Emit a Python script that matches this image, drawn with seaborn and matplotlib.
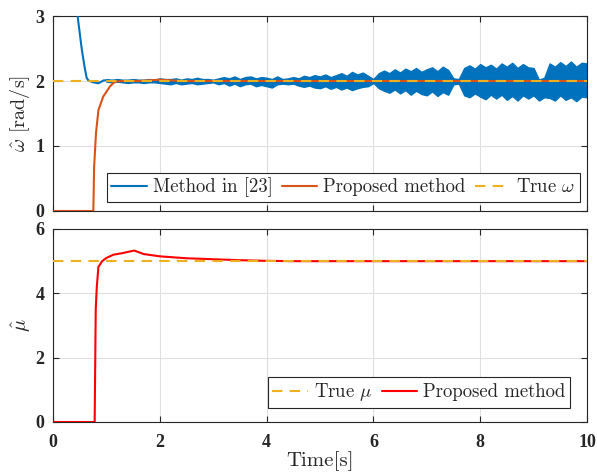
import numpy as np
import pandas as pd
import matplotlib
matplotlib.use("Agg")
import matplotlib.pyplot as plt
import seaborn as sns

# ---------------- data ----------------
# Method in [23]: initial transient (single curve)
blue_trans_t = [0.00, 0.30, 0.40, 0.46, 0.54, 0.59, 0.63, 0.66, 0.75, 0.85, 0.95, 1.00]
blue_trans_v = [10.0, 4.20, 3.35, 3.00, 2.48, 2.22, 2.05, 2.01, 1.98, 1.965, 2.01, 2.01]

# Method in [23]: noisy band around 2 rad/s, upper / lower deviation
blue_band_t = [1.0, 1.1, 1.2, 1.3, 1.4, 1.5, 1.6, 1.7, 1.8, 1.9,
               2.0, 2.1, 2.2, 2.3, 2.4, 2.5, 2.6, 2.7, 2.8, 2.9,
               3.0, 3.1, 3.2, 3.3, 3.4, 3.5, 3.6, 3.7, 3.8, 3.9,
               4.0, 4.1, 4.2, 4.3, 4.4, 4.5, 4.6, 4.7, 4.8, 4.9,
               5.0, 5.1, 5.2, 5.3, 5.4, 5.5, 5.6, 5.7, 5.8, 5.9,
               6.0, 6.1, 6.2, 6.3, 6.4, 6.5, 6.6, 6.7, 6.8, 6.9,
               7.0, 7.1, 7.2, 7.3, 7.4, 7.5, 7.6, 7.7, 7.8, 7.9,
               8.0, 8.1, 8.2, 8.3, 8.4, 8.5, 8.6, 8.7, 8.8, 8.9,
               9.0, 9.1, 9.2, 9.3, 9.4, 9.5, 9.6, 9.7, 9.8, 9.9, 10.0]
blue_dev_hi = [0.03, 0.02, 0.03, 0.02, 0.02, 0.03, 0.02, 0.02, 0.03, 0.02,
               0.04, 0.03, 0.03, 0.04, 0.02, 0.04, 0.03, 0.05, 0.03, 0.03,
               0.02, 0.04, 0.06, 0.04, 0.07, 0.03, 0.06, 0.07, 0.04, 0.06,
               0.05, 0.03, 0.07, 0.03, 0.04, 0.06, 0.04, 0.08, 0.06, 0.09,
               0.07, 0.10, 0.06, 0.09, 0.12, 0.08, 0.14, 0.10, 0.13, 0.08,
               0.03, 0.12, 0.16, 0.12, 0.18, 0.13, 0.19, 0.15, 0.20, 0.14,
               0.18, 0.21, 0.15, 0.22, 0.17, 0.04, 0.03, 0.20, 0.24, 0.19,
               0.26, 0.21, 0.25, 0.19, 0.27, 0.22, 0.28, 0.20, 0.26, 0.21,
               0.20, 0.02, 0.05, 0.27, 0.22, 0.29, 0.23, 0.30, 0.22, 0.28, 0.27]
blue_dev_lo = [0.01, 0.02, 0.01, 0.02, 0.03, 0.02, 0.02, 0.03, 0.02, 0.02,
               0.03, 0.04, 0.05, 0.03, 0.05, 0.04, 0.03, 0.05, 0.04, 0.03,
               0.02, 0.05, 0.03, 0.07, 0.04, 0.08, 0.05, 0.04, 0.08, 0.06,
               0.08, 0.10, 0.05, 0.04, 0.05, 0.04, 0.07, 0.09, 0.07, 0.10,
               0.11, 0.08, 0.12, 0.09, 0.13, 0.10, 0.14, 0.11, 0.09, 0.08,
               0.03, 0.11, 0.15, 0.18, 0.13, 0.19, 0.14, 0.21, 0.15, 0.20,
               0.22, 0.16, 0.23, 0.17, 0.21, 0.05, 0.04, 0.22, 0.25, 0.19,
               0.24, 0.28, 0.21, 0.27, 0.21, 0.29, 0.23, 0.30, 0.22, 0.27,
               0.22, 0.30, 0.25, 0.26, 0.30, 0.22, 0.29, 0.25, 0.31, 0.24, 0.25]

# Proposed method (omega estimate)
orange_t = [0.0, 0.755, 0.77, 0.805, 0.85, 0.94, 1.07, 1.16, 1.30, 1.60, 2.00, 2.40, 10.0]
orange_v = [0.0, 0.0, 0.68, 1.20, 1.55, 1.76, 1.92, 1.99, 2.00, 2.00, 2.02, 2.00, 2.00]

true_omega = 2.0

# Proposed method (mu estimate)
red_t = [0.0, 0.78, 0.80, 0.82, 0.85, 0.92, 1.00, 1.13, 1.30, 1.52, 1.70, 2.00, 2.50,
         3.00, 3.50, 4.00, 4.50, 10.0]
red_v = [0.0, 0.0, 3.50, 4.20, 4.82, 5.00, 5.10, 5.20, 5.25, 5.33, 5.22, 5.15, 5.09,
         5.06, 5.03, 5.01, 5.00, 5.00]

true_mu = 5.0
t_range = [0.0, 10.0]

top_labels = ["Method in [23]", "Proposed method", r"True $\omega$"]
bot_labels = [r"True $\mu$", "Proposed method"]
x_ticks = [0, 2, 4, 6, 8, 10]
top_yticks = [0, 1, 2, 3]
bot_yticks = [0, 2, 4, 6]

# ---------------- style ----------------
sns.set_theme(style="white")
plt.rcParams["font.family"] = ["cmr10", "DejaVu Serif"]
plt.rcParams["mathtext.fontset"] = "cm"
plt.rcParams["axes.formatter.use_mathtext"] = True

C_BLUE = "#0072BD"
C_ORANGE = "#D95319"
C_YELLOW = "#EDB120"
C_RED = "#FF0000"
DASH = (0, (5, 3.5))

fig = plt.figure(figsize=(5.97, 4.75), dpi=100)
ax1 = fig.add_axes([0.0888, 0.5558, 0.8944, 0.4105])
ax2 = fig.add_axes([0.0888, 0.1116, 0.8944, 0.4063])

# top panel
band = pd.DataFrame({"t": blue_band_t, "hi": blue_dev_hi, "lo": blue_dev_lo})
ax1.fill_between(band["t"], true_omega - band["lo"], true_omega + band["hi"],
                 color=C_BLUE, lw=1.0, edgecolor=C_BLUE, zorder=2)
sns.lineplot(x=blue_trans_t, y=blue_trans_v, ax=ax1, color=C_BLUE, lw=1.5,
             label=top_labels[0], zorder=3)
sns.lineplot(x=orange_t, y=orange_v, ax=ax1, color=C_ORANGE, lw=1.5,
             label=top_labels[1], zorder=4)
sns.lineplot(x=t_range, y=[true_omega] * 2, ax=ax1, color=C_YELLOW, lw=1.5,
             label=top_labels[2], zorder=5)
ax1.lines[-1].set_linestyle(DASH)

# bottom panel
sns.lineplot(x=t_range, y=[true_mu] * 2, ax=ax2, color=C_YELLOW, lw=1.5,
             label=bot_labels[0], zorder=4)
ax2.lines[-1].set_linestyle(DASH)
sns.lineplot(x=red_t, y=red_v, ax=ax2, color=C_RED, lw=1.5,
             label=bot_labels[1], zorder=3)

tick_font = dict(family="Liberation Serif", weight="bold", size=13)

for ax, ylim, yticks in [(ax1, (0, 3), top_yticks), (ax2, (0, 6), bot_yticks)]:
    ax.set_xlim(0, 10)
    ax.set_ylim(*ylim)
    ax.set_xticks(x_ticks)
    ax.set_yticks(yticks)
    ax.grid(True, color="#dfdfdf", lw=0.8)
    ax.set_axisbelow(True)
    for s in ax.spines.values():
        s.set_color("#262626")
        s.set_linewidth(0.8)
    ax.tick_params(direction="in", length=4, width=0.8, color="#262626",
                   top=True, right=True, bottom=True, left=True)
    ax.tick_params(axis="y", pad=6)
    ax.tick_params(axis="x", pad=9)
    ax.set_yticklabels([str(v) for v in yticks], fontdict=tick_font)
    ax.set_facecolor("white")

ax1.set_xticklabels([])
ax2.set_xticklabels([str(v) for v in x_ticks], fontdict=tick_font)

ax1.set_xlabel("")
ax1.set_ylabel(r"$\hat{\omega}$ [rad/s]", fontsize=14.5)
ax2.set_ylabel(r"$\hat{\mu}$", fontsize=14.5)
ax1.yaxis.set_label_coords(-0.040, 0.5)
ax2.yaxis.set_label_coords(-0.038, 0.5)
ax2.set_xlabel("Time[s]", fontsize=15, labelpad=0)

leg_kw = dict(fontsize=13.5, frameon=True, fancybox=False, handlelength=1.9,
              handletextpad=0.3, columnspacing=0.5, borderpad=0.25, borderaxespad=0)
leg1 = ax1.legend(loc="lower right", bbox_to_anchor=(0.987, 0.046), ncol=3, **leg_kw)
leg2 = ax2.legend(loc="lower right", bbox_to_anchor=(0.968, 0.072), ncol=2, **leg_kw)
for leg in (leg1, leg2):
    fr = leg.get_frame()
    fr.set_edgecolor("#262626")
    fr.set_linewidth(0.8)
    fr.set_alpha(1)
leg1.get_lines()[2].set_linestyle(DASH)
leg2.get_lines()[0].set_linestyle(DASH)

fig.savefig("out.png", dpi=100, facecolor="white")
